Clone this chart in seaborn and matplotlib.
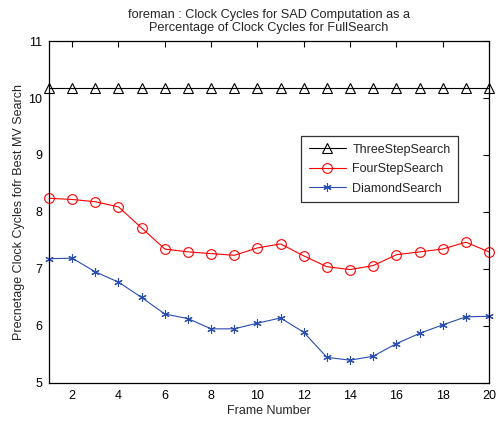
import matplotlib
matplotlib.use("Agg")
import matplotlib.pyplot as plt
import seaborn as sns
import pandas as pd

frames = list(range(1, 21))
three_step = [10.18] * 20
four_step = [8.24, 8.22, 8.18, 8.09, 7.72, 7.35, 7.30, 7.27, 7.24, 7.37,
             7.44, 7.23, 7.04, 6.99, 7.06, 7.25, 7.30, 7.35, 7.47, 7.30]
diamond = [7.18, 7.19, 6.95, 6.77, 6.50, 6.21, 6.13, 5.95, 5.95, 6.05,
           6.14, 5.89, 5.45, 5.40, 5.47, 5.69, 5.87, 6.02, 6.16, 6.17]
series_names = ["ThreeStepSearch", "FourStepSearch", "DiamondSearch"]
x_ticks = list(range(2, 21, 2))
y_ticks = list(range(5, 12))

sns.set_style("white")
plt.rcParams["font.family"] = ["Liberation Sans", "DejaVu Sans"]
plt.rcParams["font.size"] = 9

fig = plt.figure(figsize=(5.0, 4.21), dpi=100)
ax = fig.add_axes([0.098, 0.0903, 0.88, 0.8123])

styles = {
    "ThreeStepSearch": dict(color="black", marker="^", ms=7, mfc="none"),
    "FourStepSearch": dict(color="#ff0000", marker="o", ms=7, mfc="none"),
    "DiamondSearch": dict(color="#2a4db0", marker=(6, 2, 0), ms=6, mfc="none"),
}
values = [three_step, four_step, diamond]
for name, vals in zip(series_names, values):
    df = pd.DataFrame({"Frame": frames, "Value": vals})
    st = styles[name]
    sns.lineplot(data=df, x="Frame", y="Value", ax=ax, label=name,
                 color=st["color"], marker=st["marker"], markersize=st["ms"],
                 markerfacecolor=st["mfc"], markeredgecolor=st["color"],
                 markeredgewidth=0.8, linewidth=0.8, clip_on=False)

ax.set_xlim(1, 20)
ax.set_ylim(5, 11)
ax.set_xticks(x_ticks)
ax.set_yticks(y_ticks)
ax.tick_params(direction="in", length=4, width=0.8, top=True, right=True,
               labelsize=9, colors="black", pad=5)
for sp in ax.spines.values():
    sp.set_color("black")
    sp.set_linewidth(0.9)

ax.set_xlabel("Frame Number", fontsize=9, labelpad=2)
ax.set_ylabel("Precnetage Clock Cycles fofr Best MV Search", fontsize=9, labelpad=2)
ax.set_title("foreman : Clock Cycles for SAD Computation as a\nPercentage of Clock Cycles for FullSearch",
             fontsize=9.2, pad=7, linespacing=1.1)

leg = ax.legend(loc="upper left", bbox_to_anchor=(0.573, 0.722), frameon=True,
                fancybox=False, edgecolor="black", fontsize=9, handlelength=3.0,
                borderpad=0.6, labelspacing=0.6, handletextpad=0.5,
                borderaxespad=0)
leg.get_frame().set_linewidth(0.9)

fig.savefig("out.png", dpi=100)
